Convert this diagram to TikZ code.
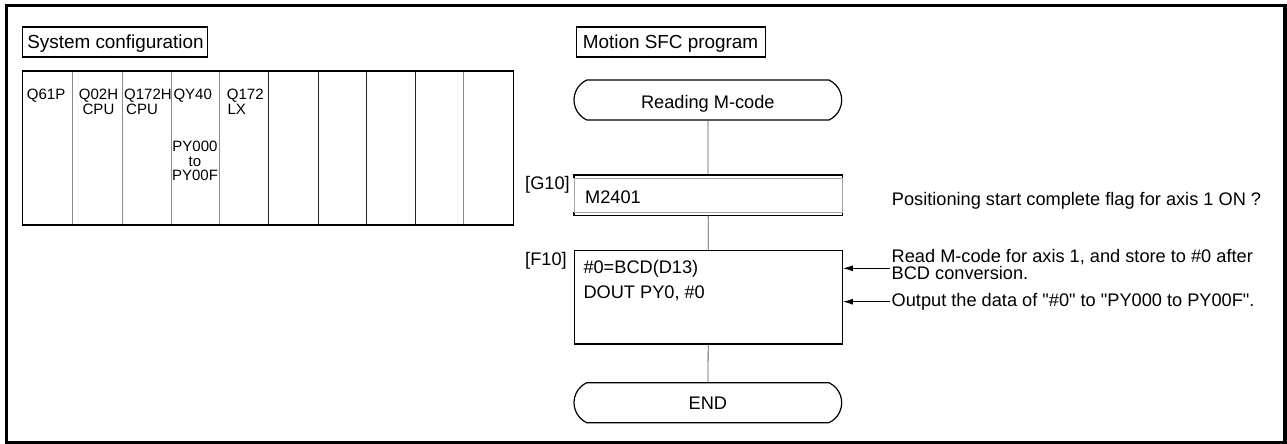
\documentclass[tikz,border=0pt]{standalone}
\usepackage{fontspec}
\setmainfont{Liberation Sans}[Ligatures=TeXOff]
\usetikzlibrary{arrows.meta,shapes.misc}
\begin{document}
\begin{tikzpicture}[x=1pt,y=-1pt,
  txt/.style={inner sep=0pt, font=\fontsize{18.2}{18}\selectfont},
  ttl/.style={inner sep=0pt, font=\fontsize{18.9}{18}\selectfont},
  small/.style={inner sep=0pt, font=\fontsize{15}{15}\selectfont},
  tight/.style={text height=13pt, text depth=1pt},
  titlebox/.style={draw, line width=1.2pt},
  stad/.style={draw, line width=1.2pt, rounded rectangle, rounded rectangle arc length=130,
    minimum width=267.7pt, minimum height=40pt, inner sep=0pt},
  plainbox/.style={minimum width=267.7pt, inner sep=0pt, anchor=north west},
  link/.style={draw=black!65, line width=0.8pt},
  ann/.style={line width=1pt, -{Latex[length=10pt,width=6pt]}},
  colg/.style={line width=1pt, draw=black!45},
  colb/.style={line width=1pt, draw=black!85},
]
\useasboundingbox (0,0) rectangle (1287,444);
% outer frame
\draw[line width=3.5pt] (6.7,5.7) rectangle (1285,442.7);

% ---------- System configuration ----------
\draw[titlebox] (22.7,27) rectangle (207.7,57);
\node[ttl, anchor=base] (sc) at (115.5,48.3) {System configuration};

% rack
\draw[colg] (72.7,71) -- (72.7,225);
\draw[colg] (122.7,71) -- (122.7,225);
\draw[colg] (171,71) -- (171,225);
\draw[colg] (219.3,71) -- (219.3,225);
\draw[colb] (268.7,71) -- (268.7,225);
\draw[colb] (318.7,71) -- (318.7,225);
\draw[colb] (366.7,71) -- (366.7,225);
\draw[colb] (415.7,71) -- (415.7,225);
\draw[colg] (463.7,71) -- (463.7,225);
\draw[line width=1.4pt] (22.3,71) rectangle (513.3,225);

\node[small, anchor=base west] (m1) at (26.7,99.3) {Q61P};
\node[small, anchor=base] (m2a) at (98.5,99.3) {Q02H};
\node[small, anchor=base] (m2b) at (98.5,114) {CPU};
\node[small, anchor=base west] (m3a) at (124,99.3) {Q172H};
\node[small, anchor=base west] (m3b) at (126,114) {CPU};
\node[small, anchor=base west] (m4) at (173.3,99.3) {QY40};
\node[small, anchor=base] (p1) at (195,151.5) {PY000};
\node[small, anchor=base] (p2) at (195,166) {to};
\node[small, anchor=base] (p3) at (195,180.5) {PY00F};
\node[small, anchor=base west] (m5a) at (226.7,99.3) {Q172};
\node[small, anchor=base west] (m5b) at (227.3,114) {LX};

% ---------- Motion SFC program ----------
\draw[titlebox] (576.7,27) rectangle (765.7,57);
\node[ttl, anchor=base] (sfc) at (670.5,48.5) {Motion SFC program};

\node[stad] (rm) at (707.85,100) {};
\node[txt, anchor=base] (rmt) at (707.85,108) {Reading M-code};

% G10 transition
\node[plainbox, minimum height=40pt] (g10) at (574,175) {};
\draw[line width=1.2pt] ([yshift=-3.3pt]g10.north west) -- (g10.north west) -- (g10.north east) -- ([yshift=-3.3pt]g10.north east);
\draw[line width=1.2pt] ([yshift=3.3pt]g10.south west) -- (g10.south west) -- (g10.south east) -- ([yshift=3.3pt]g10.south east);
\draw[line width=1pt, draw=black!35] ([yshift=-3.3pt]g10.north west) rectangle ([yshift=3.3pt]g10.south east);
\node[txt, anchor=base west] (g10l) at (525,189.5) {[G10]};
\node[txt, anchor=base west] (g10t) at (585,203.3) {M2401};
\node[txt, anchor=base west] (g10c) at (891.7,205) {Positioning start complete flag for axis 1 ON ?};

% F10 step
\node[plainbox, draw, line width=1.2pt, minimum height=93.3pt] (f10) at (574,250) {};
\node[txt, anchor=base west] (f10l) at (525,265.5) {[F10]};
\node[txt, anchor=base west] (f10a) at (583.3,273.3) {\#0=BCD(D13)};
\node[txt, anchor=base west] (f10b) at (583.3,298.3) {DOUT PY0, \#0};

\node[stad] (end) at (707.85,402.7) {};
\node[txt, anchor=base] (endt) at (707.85,409.3) {END};

% connectors
\draw[link] (rm) -- (g10);
\draw[link] (g10) -- (f10);
\draw[link] (f10) -- (end);

% annotations
\node[txt, tight, anchor=base west] (c1a) at (891.5,262.3) {Read M-code for axis 1, and store to \#0 after};
\node[txt, tight, anchor=base west] (c1b) at (891.5,279.3) {BCD conversion.};
\node[txt, anchor=base west] (c2) at (891.5,306.7) {Output the data of "\#0" to "PY000 to PY00F".};
\coordinate (a1) at (890,268.3);
\coordinate (a2) at (890,301.7);
\draw[ann] (a1) -- (f10.east |- a1);
\draw[ann] (a2) -- (f10.east |- a2);
\end{tikzpicture}
\end{document}
